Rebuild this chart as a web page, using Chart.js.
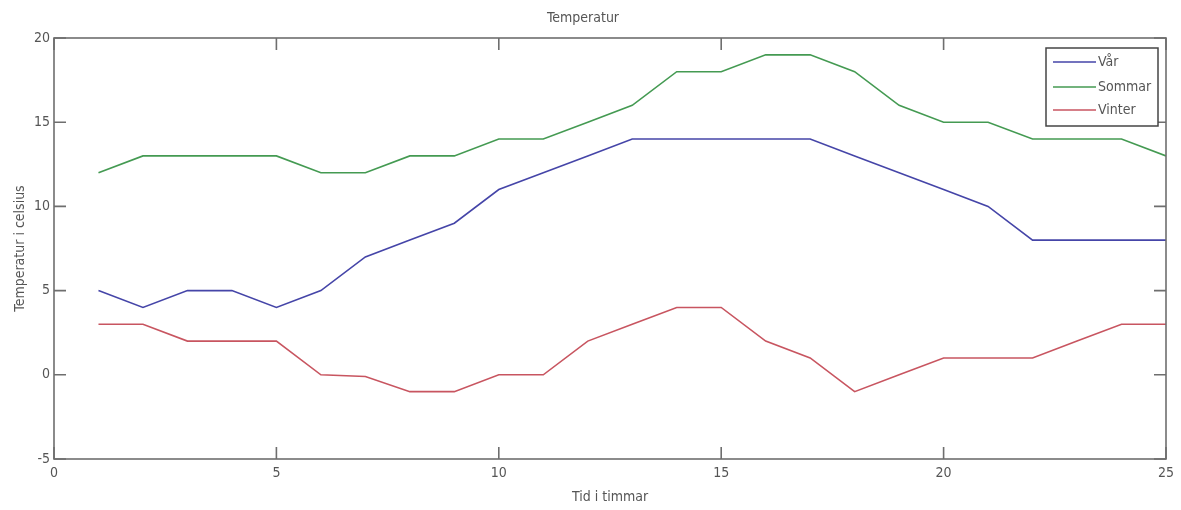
<!DOCTYPE html>
<html>
<head>
<meta charset="utf-8">
<script src="https://cdn.jsdelivr.net/npm/chart.js@4/dist/chart.umd.min.js"></script>
<style>
  html, body { margin: 0; padding: 0; background: #fff; }
  #wrap { width: 1181px; height: 510px; position: relative; }
</style>
</head>
<body>
<div id="wrap"><canvas id="c" width="1181" height="510"></canvas></div>
<script>
// ---- data ----
const hours   = [1,2,3,4,5,6,7,8,9,10,11,12,13,14,15,16,17,18,19,20,21,22,23,24,25];
const var_    = [5,4,5,5,4,5,7,8,9,11,12,13,14,14,14,14,14,13,12,11,10,8,8,8,8];
const sommar  = [12,13,13,13,13,12,12,13,13,14,14,15,16,18,18,19,19,18,16,15,15,14,14,14,13];
const vinter  = [3,3,2,2,2,0,-0.1,-1,-1,0,0,2,3,4,4,2,1,-1,0,1,1,1,2,3,3];
const seriesNames = ['Vår', 'Sommar', 'Vinter'];
const xTicks = [0,5,10,15,20,25];
const yTicks = [-5,0,5,10,15,20];
const titleText = 'Temperatur';
const xTitle = 'Tid i timmar';
const yTitle = 'Temperatur i celsius';

const FONT = '"Liberation Sans Narrow", "DejaVu Sans Condensed", "Arial Narrow", "Liberation Sans", sans-serif';
const FS = 14;
const TXT = '#555555';
const AXIS = '#6e6e6e';
const colors = ['#4545a8', '#449a52', '#c85560'];

const toPts = arr => hours.map((h, i) => ({x: h, y: arr[i]}));

const boxPlugin = {
  id: 'matlabBox',
  afterDatasetsDraw(chart) {
    const {ctx, chartArea: a, scales} = chart;
    ctx.save();
    ctx.strokeStyle = AXIS;
    ctx.lineWidth = 1.6;
    ctx.strokeRect(a.left, a.top, a.right - a.left, a.bottom - a.top);
    const tl = 12;
    ctx.beginPath();
    xTicks.forEach(v => {
      const px = scales.x.getPixelForValue(v);
      ctx.moveTo(px, a.bottom); ctx.lineTo(px, a.bottom - tl);
      ctx.moveTo(px, a.top); ctx.lineTo(px, a.top + tl);
    });
    yTicks.forEach(v => {
      const py = scales.y.getPixelForValue(v);
      ctx.moveTo(a.left, py); ctx.lineTo(a.left + tl, py);
      ctx.moveTo(a.right, py); ctx.lineTo(a.right - tl, py);
    });
    ctx.stroke();

    // legend
    const lx = 1046, ly = 48, lw = 112, lh = 78;
    ctx.fillStyle = '#fff';
    ctx.fillRect(lx, ly, lw, lh);
    ctx.strokeStyle = '#454545';
    ctx.lineWidth = 1.5;
    ctx.strokeRect(lx, ly, lw, lh);
    const rows = [62, 87, 110];
    ctx.font = FS + 'px ' + FONT;
    ctx.textBaseline = 'middle';
    ctx.textAlign = 'left';
    chart.data.datasets.forEach((ds, i) => {
      ctx.strokeStyle = ds.borderColor;
      ctx.lineWidth = 1.5;
      ctx.beginPath();
      ctx.moveTo(lx + 7, rows[i]);
      ctx.lineTo(lx + 50, rows[i]);
      ctx.stroke();
      ctx.fillStyle = TXT;
      ctx.fillText(ds.label, lx + 52, rows[i]);
    });
    ctx.restore();
  }
};

new Chart(document.getElementById('c'), {
  type: 'line',
  data: {
    datasets: [
      {label: seriesNames[0], data: toPts(var_), borderColor: colors[0]},
      {label: seriesNames[1], data: toPts(sommar), borderColor: colors[1]},
      {label: seriesNames[2], data: toPts(vinter), borderColor: colors[2]}
    ].map(d => Object.assign(d, {borderWidth: 1.6, pointRadius: 0, tension: 0, fill: false}))
  },
  options: {
    responsive: false,
    animation: false,
    layout: {padding: {left: 0, right: 15, top: 0, bottom: 0}},
    plugins: {
      legend: {display: false},
      tooltip: {enabled: false},
      title: {
        display: true, text: titleText, color: TXT,
        font: {family: FONT, size: FS, weight: 'normal', lineHeight: 1.2},
        padding: {top: 9.6, bottom: 11.6}
      }
    },
    scales: {
      x: {
        type: 'linear', min: 0, max: 25,
        afterBuildTicks: s => { s.ticks = xTicks.map(v => ({value: v})); },
        afterFit: s => { s.height = 51; },
        grid: {display: false, drawTicks: false},
        border: {display: false},
        ticks: {color: TXT, padding: 5.6, maxRotation: 0, font: {family: FONT, size: FS, lineHeight: 1.2}},
        title: {display: true, text: xTitle, color: TXT, padding: {top: 0, bottom: 4.6},
                font: {family: FONT, size: FS, lineHeight: 1.2}}
      },
      y: {
        type: 'linear', min: -5, max: 20,
        afterBuildTicks: s => { s.ticks = yTicks.map(v => ({value: v})); },
        afterFit: s => { s.width = 54; },
        grid: {display: false, drawTicks: false},
        border: {display: false},
        ticks: {color: TXT, padding: 4, font: {family: FONT, size: FS, lineHeight: 1.2}},
        title: {display: true, text: yTitle, color: TXT, padding: {top: 11.6, bottom: 0},
                font: {family: FONT, size: FS, lineHeight: 1.2}}
      }
    }
  },
  plugins: [boxPlugin]
});
</script>
</body>
</html>
